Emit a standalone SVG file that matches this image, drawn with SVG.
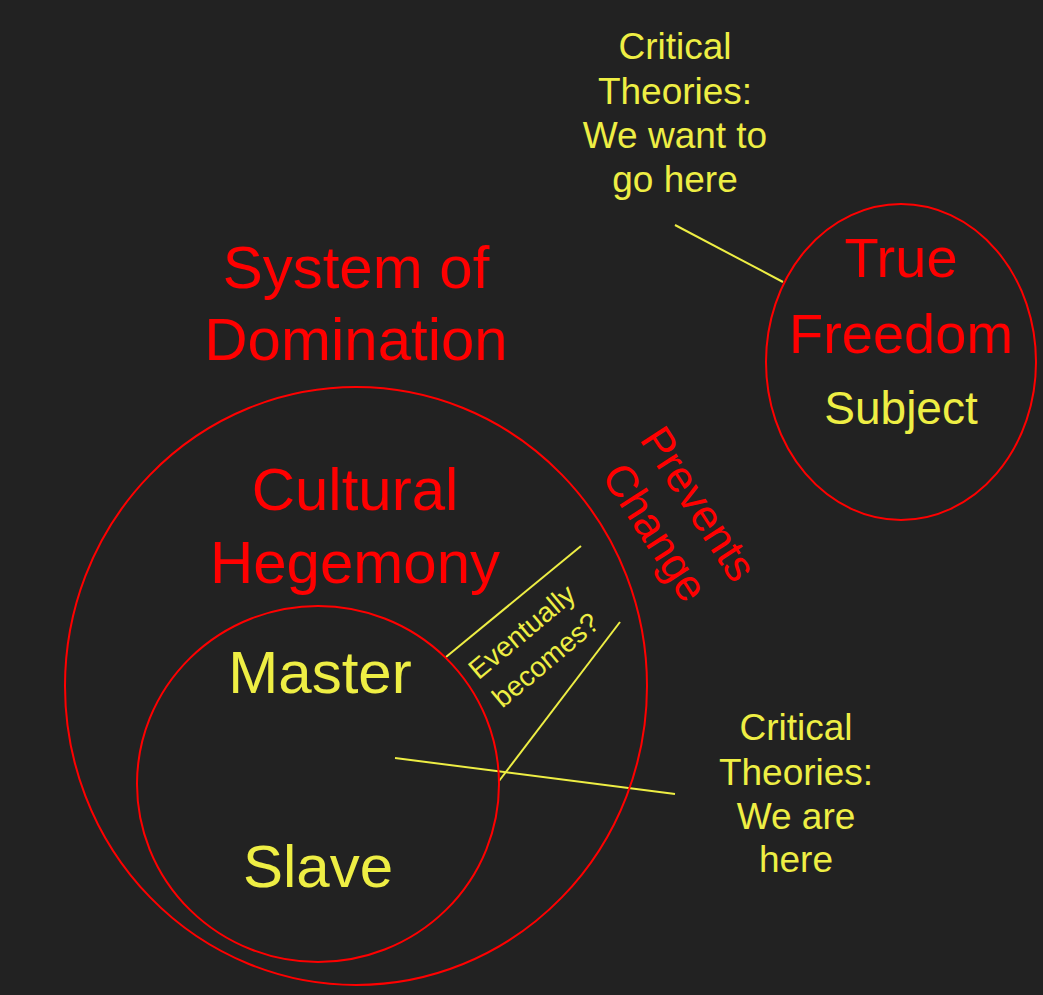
<svg xmlns="http://www.w3.org/2000/svg" width="1043" height="995" viewBox="0 0 1043 995">
<style>
.ring{fill:none;stroke:#ff0000;stroke-width:2}
.con{stroke:#eeee44;stroke-width:2;fill:none}
text{font-family:"Liberation Sans",Arial,sans-serif;text-anchor:middle}
.r{fill:#ff0000}
.y{fill:#eeee44}
</style>
<rect x="0" y="0" width="1043" height="995" fill="#222222"/>
<g id="connectors">
<line class="con" x1="675" y1="225" x2="783" y2="282"/>
<line class="con" x1="395" y1="758" x2="675" y2="794"/>
<line class="con" x1="581" y1="546" x2="446" y2="657"/>
<line class="con" x1="620" y1="622" x2="499" y2="781"/>
</g>
<g id="system-of-domination">
<ellipse class="ring" cx="356" cy="686" rx="291" ry="299"/>
<text class="r" font-size="60" x="356" y="288">System of</text>
<text class="r" font-size="60" x="356" y="360">Domination</text>
</g>
<g id="cultural-hegemony">
<text class="r" font-size="60" x="355" y="510">Cultural</text>
<text class="r" font-size="60" x="355" y="583">Hegemony</text>
</g>
<g id="master-slave">
<ellipse class="ring" cx="318" cy="784" rx="181" ry="178"/>
<text class="y" font-size="60" x="320" y="693">Master</text>
<text class="y" font-size="60" x="318" y="887">Slave</text>
</g>
<g id="true-freedom">
<ellipse class="ring" cx="901" cy="362" rx="135" ry="158"/>
<text class="r" font-size="56" x="901" y="277">True</text>
<text class="r" font-size="56" x="901" y="353">Freedom</text>
<text class="y" font-size="46" x="901" y="424">Subject</text>
</g>
<g id="prevents-change">
<g transform="translate(686,512) rotate(57)">
<text class="r" font-size="44" x="0" y="0">Prevents</text>
<text class="r" font-size="44" x="0" y="52">Change</text>
</g>
</g>
<g id="eventually-becomes">
<g transform="translate(528,639) rotate(-40)">
<text class="y" font-size="28" x="0" y="0">Eventually</text>
<text class="y" font-size="28" x="0" y="37">becomes?</text>
</g>
</g>
<g id="critical-want">
<text class="y" font-size="37" x="675" y="59">Critical</text>
<text class="y" font-size="37" x="675" y="104">Theories:</text>
<text class="y" font-size="37" x="675" y="148">We want to</text>
<text class="y" font-size="37" x="675" y="192">go here</text>
</g>
<g id="critical-are">
<text class="y" font-size="37" x="796" y="740">Critical</text>
<text class="y" font-size="37" x="796" y="785">Theories:</text>
<text class="y" font-size="37" x="796" y="829">We are</text>
<text class="y" font-size="37" x="796" y="872">here</text>
</g>
</svg>
